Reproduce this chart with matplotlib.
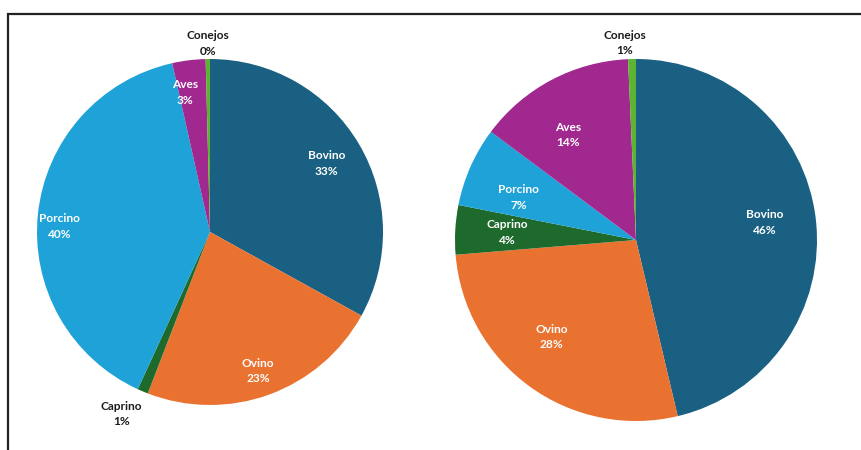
import matplotlib
matplotlib.use("Agg")
import matplotlib.pyplot as plt
import numpy as np
from matplotlib.patches import Rectangle

categories = ["Bovino", "Ovino", "Caprino", "Porcino", "Aves", "Conejos"]
left_values = [33.0, 22.8, 1.0, 39.6, 3.1, 0.4]
right_values = [46.3, 27.4, 4.4, 7.1, 14.1, 0.7]
left_labels = ["33%", "23%", "1%", "40%", "3%", "0%"]
right_labels = ["46%", "28%", "4%", "7%", "14%", "1%"]

colors = ["#1a6082", "#e97230", "#1e6a2c", "#1ea2d7", "#a1288f", "#5cb432"]

# label placement style: (radius factor, angle offset deg, text color)
left_style = [(0.78, 0, "white"), (0.85, -1, "white"), (1.17, -3, "#1a1a1a"),
              (0.87, 4, "white"), (0.82, 3, "white"), (1.09, 0, "#1a1a1a")]
right_style = [(0.72, 1, "white"), (0.71, -5, "white"), (0.71, 0, "white"),
               (0.69, 4, "white"), (0.69, 5, "white"), (1.09, 2, "#1a1a1a")]

plt.rcParams['font.family'] = ['Lato', 'DejaVu Sans']

fig = plt.figure(figsize=(8.62, 4.5), dpi=100)

# frame
fig.patches.append(Rectangle((8 / 862, -0.1), 1.0, 1.1 - 14 / 450,
                             transform=fig.transFigure, fill=False,
                             edgecolor="#222222", linewidth=1.6, zorder=0))


def draw(rect, values, pct, style):
    ax = fig.add_axes(rect)
    wedges, _ = ax.pie(values, colors=colors, startangle=90, counterclock=False,
                       wedgeprops=dict(linewidth=0))
    for w, name, p, (rf, off, col) in zip(wedges, categories, pct, style):
        ang = np.deg2rad((w.theta1 + w.theta2) / 2 + off)
        x, y = rf * np.cos(ang), rf * np.sin(ang)
        ax.text(x, y, f"{name}\n{p}", ha="center", va="center", color=col,
                fontsize=8.6, fontweight="bold", linespacing=1.5)
    ax.set_xlim(-1, 1)
    ax.set_ylim(-1, 1)
    ax.set_aspect("equal")
    ax.axis("off")


draw([37 / 862, 1 - 405 / 450, 346 / 862, 346 / 450], left_values, left_labels, left_style)
draw([455 / 862, 1 - 421 / 450, 362 / 862, 362 / 450], right_values, right_labels, right_style)

fig.savefig("out.png", dpi=100)
